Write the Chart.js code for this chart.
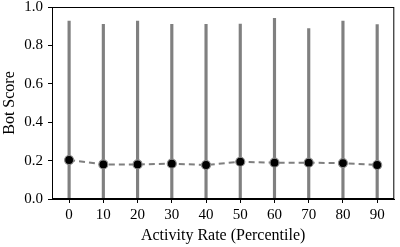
<!DOCTYPE html>
<html>
<head>
<meta charset="utf-8">
<script src="https://cdn.jsdelivr.net/npm/chart.js@4"></script>
<style>
  html, body { margin: 0; padding: 0; background: #fff; }
  #wrap { width: 400px; height: 247px; }
</style>
</head>
<body>
<div id="wrap"><canvas id="chart" width="400" height="247"></canvas></div>
<script>
// percentile buckets on the x axis
const percentiles = ['0', '10', '20', '30', '40', '50', '60', '70', '80', '90'];
// mean bot score per bucket
const meanScores = [0.203, 0.180, 0.180, 0.184, 0.177, 0.194, 0.189, 0.189, 0.187, 0.177];
// spread of scores per bucket (low / high)
const rangeLow = [0, 0, 0, 0, 0, 0, 0, 0, 0, 0];
const rangeHigh = [0.927, 0.910, 0.927, 0.910, 0.910, 0.911, 0.941, 0.887, 0.927, 0.908];
const yTicks = [0, 0.2, 0.4, 0.6, 0.8, 1.0];

const FONT = 'Liberation Serif';
const FSIZE = 15;

// frame around the plot area, like a matplotlib axes box
const boxPlugin = {
    id: 'box',
    afterDraw(chart) {
        const { ctx, chartArea: a } = chart;
        ctx.save();
        ctx.strokeStyle = '#000';
        ctx.lineWidth = 1;
        ctx.strokeRect(a.left + 0.5, a.top + 0.5, a.right - a.left - 1, a.bottom - a.top - 1);
        ctx.restore();
    }
};

new Chart(document.getElementById('chart'), {
    data: {
        labels: percentiles,
        datasets: [
            {
                type: 'line',
                data: meanScores,
                borderColor: '#7f7f7f',
                borderWidth: 2,
                borderDash: [6, 4],
                pointRadius: 4.5,
                pointBackgroundColor: '#000',
                pointBorderColor: '#8a8a8a',
                pointBorderWidth: 1.2,
                order: 0
            },
            {
                type: 'bar',
                data: rangeLow.map((lo, i) => [lo, rangeHigh[i]]),
                backgroundColor: '#808080',
                barThickness: 2.5,
                order: 1
            }
        ]
    },
    options: {
        responsive: false,
        animation: false,
        devicePixelRatio: 1,
        layout: { padding: { top: 7, right: 5, left: 0, bottom: 0 } },
        plugins: { legend: { display: false }, tooltip: { enabled: false } },
        scales: {
            x: {
                offset: true,
                grid: { display: true, drawOnChartArea: false, drawTicks: true, tickLength: 4, color: '#000', offset: false },
                border: { display: true, color: '#000', width: 1 },
                ticks: { color: '#000', font: { family: FONT, size: FSIZE }, padding: 3, maxRotation: 0 },
                title: { display: true, text: 'Activity Rate (Percentile)', color: '#000', font: { family: FONT, size: 16 }, padding: { top: 0, bottom: 2 } },
                afterFit(scale) {
                    scale.height = 48;
                    scale.paddingLeft = 0;
                    scale.paddingRight = 0;
                }
            },
            y: {
                min: 0,
                max: 1,
                afterBuildTicks(scale) { scale.ticks = yTicks.map(v => ({ value: v })); },
                grid: { display: true, drawOnChartArea: false, drawTicks: true, tickLength: 4, color: '#000' },
                border: { display: true, color: '#000', width: 1 },
                ticks: { color: '#000', font: { family: FONT, size: FSIZE }, padding: 5, callback: v => v.toFixed(1) },
                title: { display: true, text: 'Bot Score', color: '#000', font: { family: FONT, size: 16 }, padding: { top: 0, bottom: 0 } },
                afterFit(scale) {
                    scale.width = 52;
                    scale.paddingTop = 0;
                    scale.paddingBottom = 0;
                }
            }
        }
    },
    plugins: [boxPlugin]
});
</script>
</body>
</html>
